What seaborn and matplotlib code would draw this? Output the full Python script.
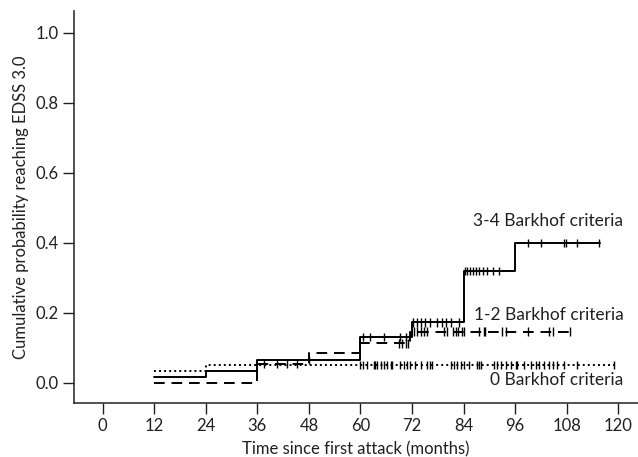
import numpy as np
import pandas as pd
import matplotlib
matplotlib.use("Agg")
import matplotlib.pyplot as plt
import seaborn as sns

# ---- data ----
groups = ["3-4 Barkhof criteria", "1-2 Barkhof criteria", "0 Barkhof criteria"]

t_34 = [12, 24, 36, 60, 72, 84, 96, 115.8]
p_34 = [0.017, 0.033, 0.066, 0.131, 0.173, 0.319, 0.400, 0.400]
c_34 = [48, 60.5, 62.2, 65.4, 69.1, 70.7, 72.3, 73.1, 74.1, 75.0, 76.3, 77.7,
        79.0, 80.0, 81.0, 82.9, 84.4, 84.9, 85.5, 86.3, 87.0, 87.7, 88.5,
        89.5, 90.8, 92.2, 98.9, 102.0, 107.4, 107.8, 110.5, 115.6]

t_12 = [12, 36, 48, 60, 71.5, 108.8]
p_12 = [0.000, 0.055, 0.087, 0.113, 0.147, 0.147]
c_12 = [37.5, 40.5, 42.8, 45.2, 68.9, 69.7, 70.5, 71.0, 72.5, 73.2, 74.0,
        74.7, 75.5, 79.4, 80.2, 81.6, 82.2, 82.7, 83.7, 84.1, 87.6, 88.7,
        89.0, 93.0, 93.8, 98.9, 103.9, 104.7, 108.8]

t_0 = [12, 24, 119.2]
p_0 = [0.034, 0.052, 0.052]
c_0 = [60.0, 60.6, 61.5, 63.1, 63.5, 63.9, 64.7, 65.4, 66.2, 67.0, 67.4,
       69.3, 70.1, 70.9, 71.6, 72.8, 74.0, 75.5, 76.3, 76.7, 81.0, 81.7,
       82.5, 83.3, 84.1, 85.2, 87.2, 87.6, 88.0, 91.1, 91.8, 92.6, 93.8,
       95.0, 96.1, 96.5, 98.1, 99.6, 100.8, 101.6, 102.7, 103.9, 104.7,
       105.8, 107.4, 110.5, 119.0]

x_ticks = [0, 12, 24, 36, 48, 60, 72, 84, 96, 108, 120]
y_ticks = [0.0, 0.2, 0.4, 0.6, 0.8, 1.0]
label_y = [0.463, 0.193, 0.008]

steps = [(t_34, p_34, c_34), (t_12, p_12, c_12), (t_0, p_0, c_0)]

curve_rows, cens_rows = [], []
for g, (ts, ps, cs) in zip(groups, steps):
    for t, p in zip(ts, ps):
        curve_rows.append({"group": g, "t": t, "p": p})
    for c in cs:
        idx = np.searchsorted(ts, c, side="right") - 1
        cens_rows.append({"group": g, "t": c, "p": ps[max(idx, 0)]})
curves = pd.DataFrame(curve_rows)
cens = pd.DataFrame(cens_rows)

# ---- plot ----
sns.set_style("ticks")
plt.rcParams["font.family"] = ["Lato", "DejaVu Sans"]

fig = plt.figure(figsize=(6.38, 4.57), dpi=100)
ax = fig.add_axes([0.1165, 0.119, 0.8835, 0.857])

pal = {g: "black" for g in groups}
dashes = {groups[0]: "", groups[1]: (5.5, 3.5), groups[2]: (1, 1.6)}
sns.lineplot(data=curves, x="t", y="p", hue="group", style="group",
             palette=pal, dashes=dashes, drawstyle="steps-post",
             estimator=None, sort=False, legend=False, linewidth=1.4, ax=ax)
sns.scatterplot(data=cens, x="t", y="p", hue="group", palette=pal,
                marker="|", s=36, linewidth=1.0, legend=False, ax=ax)

for g, y in zip(groups, label_y):
    ax.text(121.2, y, g, ha="right", va="center", fontsize=12.5, color="#231f20")

ax.set_xlim(-6.6, 124.6)
ax.set_ylim(-0.056, 1.062)
ax.set_xticks(x_ticks)
ax.set_xticklabels([str(v) for v in x_ticks])
ax.set_yticks(y_ticks)
ax.set_yticklabels([f"{v:.1f}" for v in y_ticks])
ax.tick_params(axis="both", length=8, width=1, labelsize=12,
               colors="#231f20", pad=3)
ax.set_xlabel("Time since first attack (months)", fontsize=12, color="#231f20",
              labelpad=5)
ax.set_ylabel("Cumulative probability reaching EDSS 3.0", fontsize=12,
              color="#231f20", labelpad=5)
for s in ["top", "right"]:
    ax.spines[s].set_visible(False)
for s in ["left", "bottom"]:
    ax.spines[s].set_linewidth(1.1)
    ax.spines[s].set_color("#231f20")

fig.savefig("out.png", dpi=100)
